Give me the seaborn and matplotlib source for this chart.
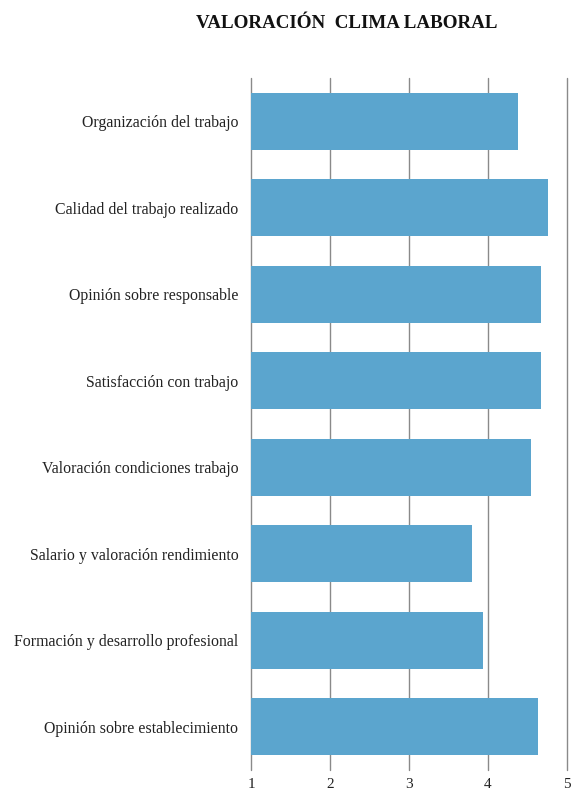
import matplotlib
matplotlib.use("Agg")
import matplotlib.pyplot as plt
import seaborn as sns
import pandas as pd

categorias = [
    "Organización del trabajo",
    "Calidad del trabajo realizado",
    "Opinión sobre responsable",
    "Satisfacción con trabajo",
    "Valoración condiciones trabajo",
    "Salario y valoración rendimiento",
    "Formación y desarrollo profesional",
    "Opinión sobre establecimiento",
]
valores = [4.38, 4.76, 4.68, 4.68, 4.55, 3.80, 3.94, 4.64]
ticks_x = [1, 2, 3, 4, 5]
titulo = "VALORACIÓN  CLIMA LABORAL"

sns.set_theme(style="white")
plt.rcParams["font.family"] = ["Liberation Serif", "DejaVu Serif"]

df = pd.DataFrame({"categoria": categorias, "valor": valores})

fig = plt.figure(figsize=(5.73, 7.95), dpi=100)
ax = fig.add_axes([251 / 573, 1 - 770 / 795, (566.7 - 251) / 573, (770 - 78) / 795])

sns.barplot(data=df, y="categoria", x="valor", orient="h", color="#5BA5CE",
            saturation=1, width=0.66, ax=ax, zorder=3)

# bars start at the axis origin (1), not at zero
for patch, v in zip(ax.patches, valores):
    patch.set_x(1)
    patch.set_width(v - 1)
    patch.set_edgecolor("none")

ax.set_xlim(1, 5)
ax.set_xticks(ticks_x)
ax.set_xticklabels([str(t) for t in ticks_x], fontsize=11, color="#222222")
ax.xaxis.grid(True, color="#8a8a8a", linewidth=1.0, zorder=0)
for gl in ax.get_xgridlines():
    gl.set_clip_on(False)
ax.yaxis.grid(False)
for s in ["top", "right", "bottom", "left"]:
    ax.spines[s].set_visible(False)
ax.tick_params(axis="x", length=0, pad=6)
ax.tick_params(axis="y", length=0, pad=9, labelsize=11.4, labelcolor="#222222")
ax.set_xlabel("")
ax.set_ylabel("")

fig.text(347 / 573, 1 - 23 / 795, titulo, ha="center", va="center",
         fontsize=13.7, fontweight="bold", color="#111111")

fig.savefig("out.png", dpi=100, facecolor="white")
